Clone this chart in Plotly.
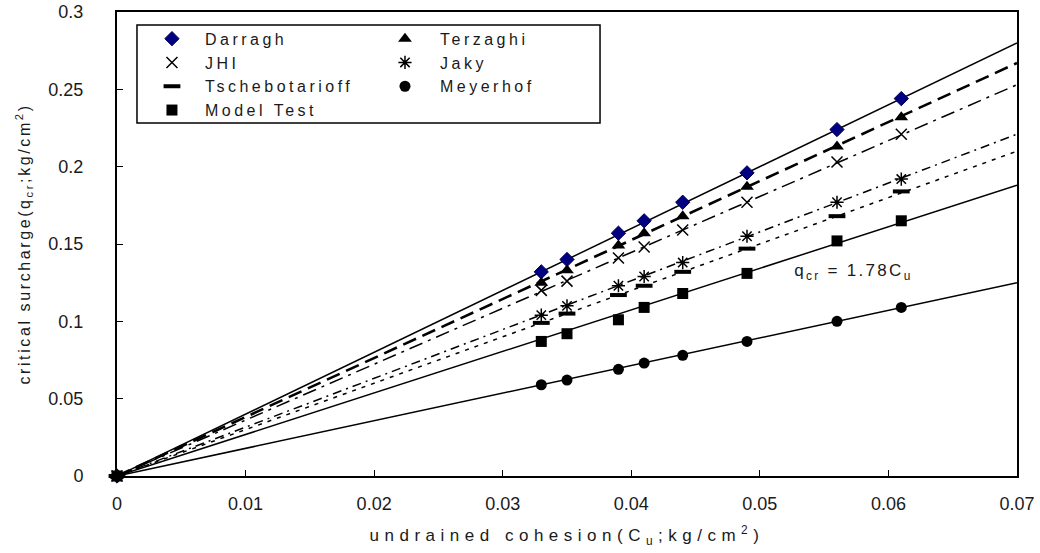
import plotly.graph_objects as go

# ---- data ----
cu = [0, 0.033, 0.035, 0.039, 0.041, 0.044, 0.049, 0.056, 0.061]

darragh = [0, 0.132, 0.140, 0.157, 0.165, 0.177, 0.196, 0.224, 0.244]
terzaghi = [0, 0.125, 0.133, 0.149, 0.157, 0.168, 0.187, 0.213, 0.232]
jhi = [0, 0.120, 0.126, 0.141, 0.148, 0.159, 0.177, 0.203, 0.221]
jaky = [0, 0.104, 0.110, 0.123, 0.129, 0.138, 0.155, 0.177, 0.192]
tscheb = [0, 0.099, 0.105, 0.117, 0.123, 0.132, 0.147, 0.168, 0.184]
model_test = [0, 0.087, 0.092, 0.101, 0.109, 0.118, 0.131, 0.152, 0.165]
meyerhof = [0, 0.059, 0.062, 0.069, 0.073, 0.078, 0.087, 0.100, 0.109]

# trend lines: from origin to the right edge of the chart
trend_x = [0, 0.07]
trend_end = {
    "Darragh": 0.280,
    "Terzaghi": 0.267,
    "JHI": 0.253,
    "Jaky": 0.221,
    "Tschebotarioff": 0.210,
    "Model Test": 0.188,
    "Meyerhof": 0.125,
}

x_ticks = [0, 0.01, 0.02, 0.03, 0.04, 0.05, 0.06, 0.07]
x_tick_labels = ["0", "0.01", "0.02", "0.03", "0.04", "0.05", "0.06", "0.07"]
y_ticks = [0, 0.05, 0.1, 0.15, 0.2, 0.25, 0.3]
y_tick_labels = ["0", "0.05", "0.1", "0.15", "0.2", "0.25", "0.3"]

FONT = "Liberation Sans"
TXT = "#1a1a1a"

fig = go.Figure()

line_styles = {
    "Darragh": dict(color="black", width=1.5, dash="solid"),
    "Terzaghi": dict(color="black", width=2.6, dash="14px,7px"),
    "JHI": dict(color="black", width=1.5, dash="14px,6px,3px,6px"),
    "Jaky": dict(color="black", width=1.5, dash="9px,5px,2px,5px"),
    "Tschebotarioff": dict(color="black", width=1.5, dash="4px,6px"),
    "Model Test": dict(color="black", width=1.5, dash="solid"),
    "Meyerhof": dict(color="black", width=1.5, dash="solid"),
}

for name, end in trend_end.items():
    fig.add_trace(go.Scatter(
        x=trend_x, y=[0, end], mode="lines",
        line=line_styles[name], showlegend=False, hoverinfo="skip"))

series = [
    ("Darragh", darragh, "legend", dict(symbol="diamond", size=11, color="#000080",
                                        line=dict(color="#00005a", width=1))),
    ("JHI", jhi, "legend", dict(symbol="x-thin-open", size=11, color="black",
                                line=dict(color="black", width=1.5))),
    ("Tschebotarioff", tscheb, "legend", dict(symbol="line-ew-open", size=12, color="black",
                                              line=dict(color="black", width=4))),
    ("Terzaghi", terzaghi, "legend2", dict(symbol="triangle-up", size=12, color="black")),
    ("Jaky", jaky, "legend2", dict(symbol="asterisk-open", size=11, color="black",
                                   line=dict(color="black", width=1.5))),
    ("Meyerhof", meyerhof, "legend2", dict(symbol="circle", size=11, color="black")),
    ("Model Test", model_test, "legend", dict(symbol="square", size=11, color="black")),
]

for name, ys, lg, mk in series:
    fig.add_trace(go.Scatter(x=cu, y=ys, mode="markers", name=name,
                             marker=mk, legend=lg, cliponaxis=False))

fig.add_annotation(
    x=0.0573, y=0.132, xref="x", yref="y",
    text="q<sub>cr</sub> = 1.78C<sub>u</sub>", showarrow=False,
    font=dict(family=FONT, size=17, color=TXT))

# legend frame (two legend columns share one box)
fig.add_shape(type="rect", xref="paper", yref="paper",
              x0=0.0222, x1=0.5367, y0=0.7608, y1=0.972,
              line=dict(color="black", width=1.5), fillcolor="white", layer="below")

legend_common = dict(
    orientation="v", xanchor="left", yanchor="top",
    bgcolor="rgba(0,0,0,0)", borderwidth=0,
    font=dict(family=FONT, size=16, color=TXT),
    itemsizing="trace", tracegroupgap=0, traceorder="normal")

fig.update_layout(
    width=1040, height=553,
    margin=dict(l=117, r=23, t=12, b=77),
    paper_bgcolor="white", plot_bgcolor="white",
    font=dict(family=FONT, size=18, color=TXT),
    showlegend=True,
    legend=dict(x=0.0244, y=0.979, itemwidth=56, **legend_common),
    legend2=dict(x=0.2811, y=0.979, itemwidth=60, **legend_common),
    xaxis=dict(
        range=[0, 0.07], tickvals=x_ticks, ticktext=x_tick_labels,
        showgrid=False, zeroline=False, showline=True, linecolor="black",
        linewidth=2, mirror=True, ticks="inside", ticklen=6, tickcolor="black",
        tickfont=dict(family=FONT, size=18, color=TXT),
        ticklabelstandoff=10, automargin=False,
        title=dict(text="undrained cohesion(C<sub>u</sub>;kg/cm<sup>2</sup>)",
                   font=dict(family=FONT, size=17, color=TXT), standoff=17),
    ),
    yaxis=dict(
        range=[0, 0.3], tickvals=y_ticks, ticktext=y_tick_labels,
        showgrid=False, zeroline=False, showline=True, linecolor="black",
        linewidth=2, mirror=True, ticks="inside", ticklen=6, tickcolor="black",
        tickfont=dict(family=FONT, size=18, color=TXT),
        ticklabelstandoff=28, automargin=False,
        title=dict(text="critical surcharge(q<sub>cr</sub>;kg/cm<sup>2</sup>)",
                   font=dict(family=FONT, size=16, color=TXT), standoff=14),
    ),
)

# page styling: no body margin, and the wide letter spacing of the original
post = """
document.body.style.margin = '0';
var st = document.createElement('style');
st.textContent =
  '.legendtext, .legend2text, .legend2 text, .legend text{letter-spacing:3.5px;}' +
  '.xtitle{letter-spacing:5.5px;}' +
  '.ytitle{letter-spacing:2.6px;}' +
  '.annotation-text{letter-spacing:2.3px;}' +
  '.scrollbox{clip-path:none !important;}';
document.head.appendChild(st);
"""

fig.write_html("out.html", post_script=post, config={"displayModeBar": False})
